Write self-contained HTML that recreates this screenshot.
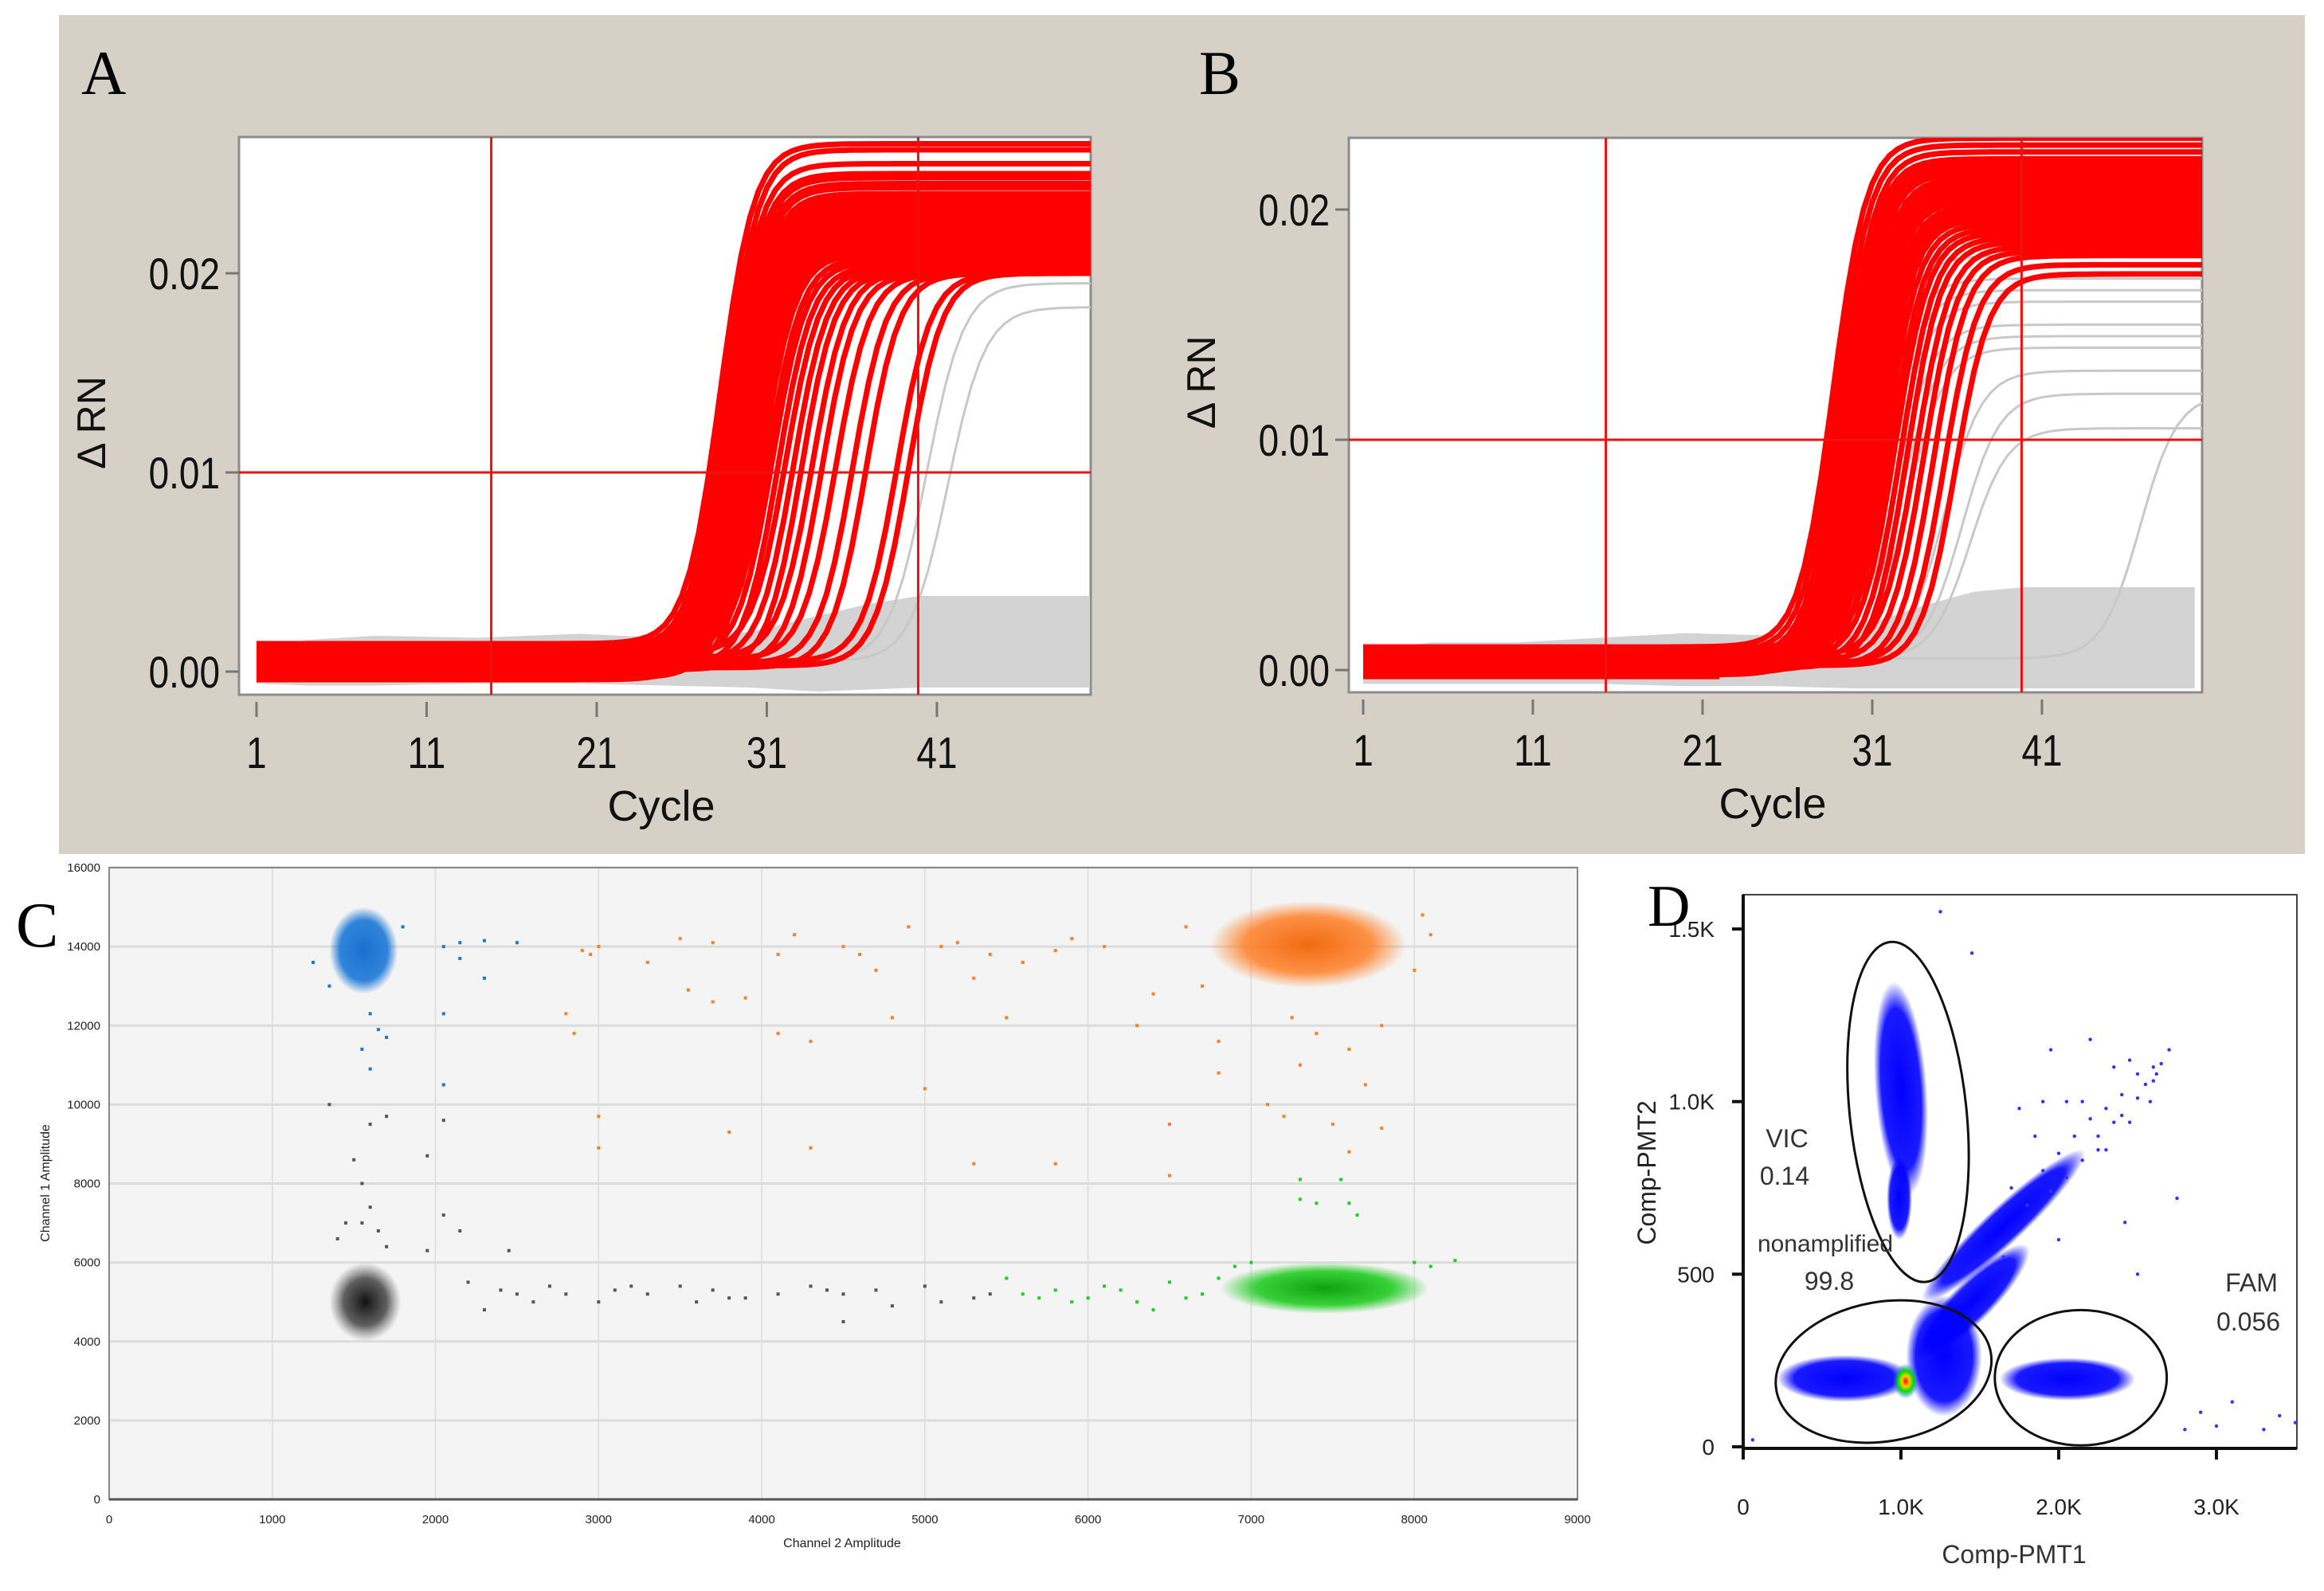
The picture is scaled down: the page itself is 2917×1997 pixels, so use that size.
<!DOCTYPE html>
<html><head><meta charset="utf-8"><style>
html,body{margin:0;padding:0;background:#fff;}
svg{display:block;}
</style></head><body>
<svg id="fig" width="2917" height="1997" viewBox="0 0 2917 1997" xmlns="http://www.w3.org/2000/svg">
<defs>
<clipPath id="clipA"><rect x="300" y="172" width="1069" height="700"/></clipPath>
<clipPath id="clipB"><rect x="1693" y="173" width="1071" height="696"/></clipPath>
<radialGradient id="gBlue"><stop offset="0" stop-color="#1a70d0" stop-opacity="1"/><stop offset="0.7" stop-color="#1a78d6" stop-opacity="0.9"/><stop offset="1" stop-color="#1a78d6" stop-opacity="0"/></radialGradient>
<radialGradient id="gGray"><stop offset="0" stop-color="#111" stop-opacity="1"/><stop offset="0.6" stop-color="#444" stop-opacity="0.85"/><stop offset="1" stop-color="#666" stop-opacity="0"/></radialGradient>
<radialGradient id="gOrange"><stop offset="0" stop-color="#f06a10" stop-opacity="1"/><stop offset="0.65" stop-color="#ff7f27" stop-opacity="0.85"/><stop offset="1" stop-color="#ff7f27" stop-opacity="0"/></radialGradient>
<radialGradient id="gGreen"><stop offset="0" stop-color="#10a010" stop-opacity="1"/><stop offset="0.65" stop-color="#22cc22" stop-opacity="0.9"/><stop offset="1" stop-color="#22cc22" stop-opacity="0"/></radialGradient>
<radialGradient id="gDBlue"><stop offset="0" stop-color="#0000ff" stop-opacity="1"/><stop offset="0.75" stop-color="#0000ff" stop-opacity="0.9"/><stop offset="1" stop-color="#0000ff" stop-opacity="0"/></radialGradient>
<radialGradient id="gHot"><stop offset="0" stop-color="#ff0000"/><stop offset="0.3" stop-color="#ffcc00"/><stop offset="0.6" stop-color="#00dd00"/><stop offset="1" stop-color="#0066ff" stop-opacity="0"/></radialGradient>
</defs>

<rect x="74" y="19" width="2819" height="1053" fill="#d6d0c7"/>
<text x="102" y="118" font-family="Liberation Serif, serif" font-size="78" fill="#000">A</text>
<text x="1505" y="118" font-family="Liberation Serif, serif" font-size="78" fill="#000">B</text>

<rect x="300" y="172" width="1069" height="700" fill="#fff" stroke="#8c8c8c" stroke-width="3"/>
<rect x="1693" y="173" width="1071" height="696" fill="#fff" stroke="#8c8c8c" stroke-width="3"/>
<g id="curvesA" clip-path="url(#clipA)"></g>
<g id="curvesB" clip-path="url(#clipB)"></g>
<g id="axesAB"></g>

<rect x="137" y="1089" width="1843" height="793" fill="#f4f4f4"/>
<g id="panelC"></g>
<text x="20" y="1188" font-family="Liberation Serif, serif" font-size="80" fill="#000">C</text>

<g id="panelD"></g>
<text x="2068" y="1162" font-family="Liberation Serif, serif" font-size="74" fill="#000">D</text>
</svg>

<script>
// ---------- Panel A data ----------
const ctA = [27.6,27.9,28.1,28.3,28.4,28.6,28.7,28.9,29.0,29.1,29.2,29.3,29.4,29.5,29.6,29.7,29.8,29.9,30.0,30.1,30.2,30.4,30.6,30.9,31.2,31.6,32.0,32.5,33.0,33.6,34.2,35.0,36.0,36.8,38.6,39.3];
const plateauA = [0.0265,0.0262,0.0255,0.0250,0.0248,0.0245,0.0243,0.0240,0.0238,0.0236,0.0234,0.0232,0.0230,0.0228,0.0226,0.0224,0.0222,0.0220,0.0218,0.0216,0.0214,0.0212,0.0210,0.0208,0.0206,0.0204,0.0203,0.0202,0.0201,0.0201,0.0200,0.0200,0.0200,0.0200,0.0200,0.0200];
const baseA = [0.0014,0.0012,0.0010,0.0008,0.0006,0.0004,0.0002,0.0000,-0.0002,-0.0004,0.0013,0.0011,0.0009,0.0007,0.0005,0.0003,0.0001,-0.0001,-0.0003,0.0012,0.0008,0.0004,0.0000,0.0010,0.0006,0.0002,0.0009,0.0005,0.0001,0.0007,0.0003,0.0006,0.0004,0.0002,0.0005,0.0003];
const grayCtA = [40.4,41.8];
const grayPlateauA = [0.0195,0.0183];
const grayBandCyclesA = [1,4,8,14,20,25,30,34,37,40,50];
const grayBandTopA = [0.0010,0.0016,0.0018,0.0017,0.0019,0.0017,0.0020,0.0028,0.0034,0.0038,0.0038];
const grayBandBottomA = [-0.0006,-0.0007,-0.0007,-0.0006,-0.0006,-0.0007,-0.0008,-0.0010,-0.0009,-0.0008,-0.0008];

// ---------- Panel B data ----------
const ctB = [28.3,28.6,28.9,29.1,29.3,29.5,29.7,29.9,30.0,30.2,30.4,30.5,30.7,30.9,31.1,31.3,31.5,31.8,32.1,32.4,32.8,33.2,33.7,34.2,34.8,35.5,36.2];
const plateauB = [0.0231,0.0228,0.0225,0.0222,0.0220,0.0218,0.0216,0.0214,0.0212,0.0210,0.0208,0.0206,0.0204,0.0202,0.0200,0.0198,0.0196,0.0194,0.0192,0.0190,0.0188,0.0186,0.0184,0.0182,0.0180,0.0176,0.0172];
const baseB = [0.0010,0.0008,0.0006,0.0004,0.0002,0.0000,-0.0002,0.0009,0.0007,0.0005,0.0003,0.0001,-0.0001,0.0008,0.0006,0.0004,0.0002,0.0000,0.0007,0.0005,0.0003,0.0001,0.0006,0.0004,0.0002,0.0003,0.0002];
const grayCtB = [31.0,31.5,32.0,32.5,33.0,33.5,34.0,36.5,38.0,40.0,42.0,44.0,46.5,48.5];
const grayPlateauB = [0.0180,0.0170,0.0165,0.0160,0.0150,0.0145,0.0140,0.0130,0.0120,0.0105,0.0095,0.0060,0.0050,0.0120];
const grayBandCyclesB = [1,5,10,15,20,25,30,34,37,40,50];
const grayBandTopB = [0.0008,0.0012,0.0012,0.0014,0.0016,0.0015,0.0018,0.0028,0.0034,0.0036,0.0036];
const grayBandBottomB = [-0.0006,-0.0006,-0.0006,-0.0006,-0.0007,-0.0007,-0.0008,-0.0008,-0.0008,-0.0008,-0.0008];

const cycleTicks = [1,11,21,31,41];
const yTicksAB = [0,0.01,0.02];
const yTickLabelsAB = ["0.00","0.01","0.02"];
const thresholdA = {cycle1:14.8, cycle2:39.9, value:0.01};
const thresholdB = {cycle1:15.3, cycle2:39.8, value:0.01};

// ---------- Panel C data ----------
const cXTicks = [0,1000,2000,3000,4000,5000,6000,7000,8000,9000];
const cYTicks = [0,2000,4000,6000,8000,10000,12000,14000,16000];
const cClusterNames = ["blue","gray","orange","green"];
const cClusterX = [1560,1570,7350,7450];
const cClusterY = [13900,5000,14050,5350];
const cClusterSX = [210,220,600,640];
const cClusterSY = [1100,1000,1100,650];
const cOrangeX = [2900,3000,2950,3300,3500,3550,3700,3700,3900,4100,4200,4300,4100,4500,4600,4700,4800,4900,5000,5100,5200,5300,5400,5500,5600,5800,5900,6100,6300,6500,6500,6800,6800,7100,7200,7300,7500,7600,7700,7800,3000,3000,3800,4300,5300,5800,2800,2850,6400,8100,8000,7800,7250,7400,7600,6600,6700,8050];
const cOrangeY = [13900,14000,13800,13600,14200,12900,12600,14100,12700,13800,14300,11600,11800,14000,13800,13400,12200,14500,10400,14000,14100,13200,13800,12200,13600,13900,14200,14000,12000,9500,8200,11600,10800,10000,9700,11000,9500,8800,10500,9400,9700,8900,9300,8900,8500,8500,12300,11800,12800,14300,13400,12000,12200,11800,11400,14500,13000,14800];
const cBlueX = [2050,2150,2300,2500,2150,2300,2050,2050,1600,1650,1550,1600,1700,1250,1350,1800];
const cBlueY = [14000,14100,14150,14100,13700,13200,12300,10500,12300,11900,11400,10900,11700,13600,13000,14500];
const cGrayX = [1350,1600,1700,1500,1550,1600,1450,1550,1650,1400,1700,1950,2050,2150,1950,2450,2050,2200,2400,2500,2700,2800,3000,3100,3300,3500,3600,3700,3900,4100,4300,4500,4500,4700,4800,5000,5100,5300,5400,2300,2600,3200,3800,4400];
const cGrayY = [10000,9500,9700,8600,8000,7400,7000,7000,6800,6600,6400,8700,7200,6800,6300,6300,9600,5500,5300,5200,5400,5200,5000,5300,5200,5400,5000,5300,5100,5200,5400,5200,4500,5300,4900,5400,5000,5100,5200,4800,5000,5400,5100,5300];
const cGreenX = [5500,5600,5800,6000,6200,6300,6500,6700,6800,6900,7000,7300,7550,7300,7400,7600,7650,8000,8100,8250,6400,5900,6600,6100,5700];
const cGreenY = [5600,5200,5300,5100,5300,5000,5500,5200,5600,5900,6000,8100,8100,7600,7500,7500,7200,6000,5900,6050,4800,5000,5100,5400,5100];

// ---------- Panel D data ----------
const dXTicks = [0,1000,2000,3000];
const dXTickLabels = ["0","1.0K","2.0K","3.0K"];
const dYTicks = [0,500,1000,1500];
const dYTickLabels = ["0","500","1.0K","1.5K"];
const dClusterX = [1000,990,645,1273,1450,2055,1650];
const dClusterY = [1037,720,198,263,420,196,640];
const dClusterSX = [165,80,430,240,500,430,700];
const dClusterSY = [311,120,68,175,60,62,55];
const dClusterRot = [-4,0,0,0,-45,0,-43];
const dScatterX = [1650,1800,1900,2000,2100,2200,2300,2400,2500,2600,2700,1700,1850,2050,2250,2450,2900,3000,3100,3300,3400,3500,2800,1450,1250,2200,1900,2550,2350,2150,1950,2650,2450,2000,1750,2580,2620,2750,60,2420,2500,2150,2250,2350,2050,1950,2300,2400,2500,2600];
const dScatterY = [550,700,800,850,900,950,980,1020,1080,1100,1150,750,900,1000,860,940,100,60,130,50,90,70,50,1430,1550,1180,1000,1050,1100,1000,1150,1110,1120,600,980,1000,1080,720,20,650,500,830,900,940,780,740,860,960,1010,1060];
const dGateCX = [1045,890,2140];
const dGateCY = [970,218,200];
const dGateRX = [370,690,545];
const dGateRY = [495,202,196];
const dGateRot = [-6,-10,0];
</script>
<script>
const NS = "http://www.w3.org/2000/svg";
function mk(tag, attrs, parent){
  const e = document.createElementNS(NS, tag);
  for (const k in attrs) e.setAttribute(k, attrs[k]);
  parent.appendChild(e);
  return e;
}
const axesAB = document.getElementById('axesAB');

const xA = c => 300.6 + c*21.35;
const yA = v => 843 - v*25000;
const xB = c => 1711 + (c-1)*21.3;
const yB = v => 841 - v*28900;
const xC = v => 137 + v*(1843/9000);
const yC = v => 1882 - v*(793/16000);
const xD = v => 2188 + v*0.198;
const yD = v => 1816 - v*0.4333;

function curvePts(ct, P, base, xs, ys, k){
  const m = ct + k*Math.log((P-base)/(0.01-base) - 1);
  const pts = [];
  for (let c = 1; c <= 50.5; c += 0.5){
    const v = base + (P-base)/(1+Math.exp(-(c-m)/k));
    pts.push(xs(c).toFixed(1)+","+ys(v).toFixed(1));
  }
  return pts.join(" ");
}

function drawQPCR(g, ct, pl, base, gct, gpl, bandC, bandT, bandB, xs, ys, thr, name){
  const top = bandC.map((c,i)=>xs(c)+","+ys(bandT[i]));
  const bot = bandC.map((c,i)=>xs(c)+","+ys(bandB[i])).reverse();
  const band = mk('polygon', {points: top.concat(bot).join(" "), fill:"#d3d3d3"}, g);
  
  
  gct.forEach((c,i)=>{
    const l = mk('polyline', {points: curvePts(c, gpl[i], 0.0005, xs, ys, 1.1), fill:"none", stroke:"#c8c8c8", "stroke-width":3}, g);
    
    
  });
  ct.forEach((c,i)=>{
    const l = mk('polyline', {points: curvePts(c, pl[i], base[i], xs, ys, 1.0), fill:"none", stroke:"#ff0000", "stroke-width":7, "stroke-linejoin":"round"}, g);
    
    
  });
  const bl = mk('rect', {x: xs(1), y: ys(0.0011), width: xs(22)-xs(1), height: ys(-0.0004)-ys(0.0011), fill:"#ff0000"}, g);
  
  
  [thr.cycle1, thr.cycle2].forEach(c=>{
    const l = mk('line', {x1: xs(c), x2: xs(c), y1: 0, y2: 2000, stroke:"#ee1111", "stroke-width":3}, g);
    
    
  });
  const h = mk('line', {x1: 0, x2: 3000, y1: ys(thr.value), y2: ys(thr.value), stroke:"#ee1111", "stroke-width":3}, g);
  
  
}
drawQPCR(document.getElementById('curvesA'), ctA, plateauA, baseA, grayCtA, grayPlateauA, grayBandCyclesA, grayBandTopA, grayBandBottomA, xA, yA, thresholdA, 'a');
drawQPCR(document.getElementById('curvesB'), ctB, plateauB, baseB, grayCtB, grayPlateauB, grayBandCyclesB, grayBandTopB, grayBandBottomB, xB, yB, thresholdB, 'b');

function axesQ(xs, ys, left, bottom, cx, name, yLabelX){
  cycleTicks.forEach(c=>{
    const t = mk('line', {x1: xs(c), x2: xs(c), y1: bottom+9, y2: bottom+28, stroke:"#777", "stroke-width":3}, axesAB);
    
    
    const tx = mk('text', {x: xs(c), y: bottom+92, "text-anchor":"middle", "font-family":"Liberation Sans, sans-serif", "font-size":56, fill:"#111", transform:`translate(${xs(c)},0) scale(0.82,1) translate(${-xs(c)},0)`}, axesAB);
    tx.textContent = c;
    
    
  });
  yTicksAB.forEach((v,i)=>{
    const t = mk('line', {x1: left-17, x2: left, y1: ys(v), y2: ys(v), stroke:"#777", "stroke-width":3}, axesAB);
    
    
    const tx = mk('text', {x: left-24, y: ys(v)+20, "text-anchor":"end", "font-family":"Liberation Sans, sans-serif", "font-size":56, fill:"#111", transform:`translate(${left-24},0) scale(0.82,1) translate(${-(left-24)},0)`}, axesAB);
    tx.textContent = yTickLabelsAB[i];
    
    
  });
  const xt = mk('text', {x: cx, y: bottom+158, "text-anchor":"middle", "font-family":"Liberation Sans, sans-serif", "font-size":54, fill:"#111"}, axesAB);
  xt.textContent = "Cycle";
  
  
  const yt = mk('text', {x: 0, y: 0, "text-anchor":"middle", "font-family":"Liberation Sans, sans-serif", "font-size":50, fill:"#111", transform:`translate(${yLabelX},${ys(0.0125)}) rotate(-90)`}, axesAB);
  yt.textContent = "Δ RN";
  
  
}
axesQ(xA, yA, 300, 872, 830, 'a', 132);
axesQ(xB, yB, 1693, 869, 2225, 'b', 1525);

// ---------- Panel C ----------
const gC = document.getElementById('panelC');
cXTicks.forEach(v=>{
  const l = mk('line', {x1: xC(v), x2: xC(v), y1: 1089, y2: 1882, stroke:"#dcdcdc", "stroke-width":1.5}, gC);
  
  
  const t = mk('text', {x: xC(v), y: 1912, "text-anchor":"middle", "font-family":"Liberation Sans, sans-serif", "font-size":15, fill:"#222"}, gC);
  t.textContent = v;
  
  
});
cYTicks.forEach(v=>{
  const l = mk('line', {x1: 137, x2: 1980, y1: yC(v), y2: yC(v), stroke:"#dcdcdc", "stroke-width":3}, gC);
  
  
  const t = mk('text', {x: 126, y: yC(v)+5, "text-anchor":"end", "font-family":"Liberation Sans, sans-serif", "font-size":15, fill:"#222"}, gC);
  t.textContent = v;
  
  
});
const fr = mk('path', {d:`M137,1089 H1980 V1882 H137 Z`, fill:"none", stroke:"#888", "stroke-width":2}, gC);


const axC = mk('line', {x1:137, x2:1980, y1:1882, y2:1882, stroke:"#555", "stroke-width":3}, gC);


const cFill = {blue:"url(#gBlue)", gray:"url(#gGray)", orange:"url(#gOrange)", green:"url(#gGreen)"};
const cDot = {blue:"#1a78d6", gray:"#555", orange:"#ff7f27", green:"#22cc22"};
cClusterNames.forEach((n,i)=>{
  const e = mk('ellipse', {cx: xC(cClusterX[i]), cy: yC(cClusterY[i]), rx: cClusterSX[i]*1843/9000, ry: cClusterSY[i]*793/16000, fill: cFill[n]}, gC);
  
  
});
function dotsC(xsArr, ysArr, n){
  xsArr.forEach((x,i)=>{
    const d = mk('rect', {x: xC(x)-2, y: yC(ysArr[i])-2, width:4, height:4, fill: cDot[n]}, gC);
    
    
  });
}
dotsC(cOrangeX, cOrangeY, 'orange');
dotsC(cBlueX, cBlueY, 'blue');
dotsC(cGrayX, cGrayY, 'gray');
dotsC(cGreenX, cGreenY, 'green');
const cxt = mk('text', {x: 1057, y: 1942, "text-anchor":"middle", "font-family":"Liberation Sans, sans-serif", "font-size":16, fill:"#222"}, gC);
cxt.textContent = "Channel 2 Amplitude";


const cyt = mk('text', {x:0, y:0, "text-anchor":"middle", "font-family":"Liberation Sans, sans-serif", "font-size":16, fill:"#222", transform:"translate(62,1485) rotate(-90)"}, gC);
cyt.textContent = "Channel 1 Amplitude";



// ---------- Panel D ----------
const gD = document.getElementById('panelD');
const fD = mk('rect', {x:2188, y:1123, width:695, height:695, fill:"#fff", stroke:"#444", "stroke-width":2}, gD);


const axDx = mk('line', {x1:2188, x2:2883, y1:1818, y2:1818, stroke:"#111", "stroke-width":4}, gD);


const axDy = mk('line', {x1:2188, x2:2188, y1:1123, y2:1818, stroke:"#111", "stroke-width":4}, gD);


dXTicks.forEach((v,i)=>{
  const t = mk('line', {x1:xD(v), x2:xD(v), y1:1818, y2:1832, stroke:"#111", "stroke-width":4}, gD);
  
  
  const tx = mk('text', {x: xD(v), y: 1901, "text-anchor":"middle", "font-family":"Liberation Sans, sans-serif", "font-size":28, fill:"#222"}, gD);
  tx.textContent = dXTickLabels[i];
  
  
});
dYTicks.forEach((v,i)=>{
  const t = mk('line', {x1:2174, x2:2188, y1:yD(v), y2:yD(v), stroke:"#111", "stroke-width":4}, gD);
  
  
  const tx = mk('text', {x: 2152, y: yD(v)+10, "text-anchor":"end", "font-family":"Liberation Sans, sans-serif", "font-size":28, fill:"#222"}, gD);
  tx.textContent = dYTickLabels[i];
  
  
});
dClusterX.forEach((x,i)=>{
  const rot = dClusterRot[i];
  const e = mk('ellipse', {cx: xD(x), cy: yD(dClusterY[i]), rx: dClusterSX[i]*0.198, ry: dClusterSY[i]*0.4333, fill:"url(#gDBlue)", transform:`rotate(${rot} ${xD(x)} ${yD(dClusterY[i])})`}, gD);
  
  
});
const hot = mk('ellipse', {cx: xD(1030), cy: yD(190), rx: 16, ry: 22, fill:"url(#gHot)"}, gD);


dScatterX.forEach((x,i)=>{
  const d = mk('circle', {cx: xD(x), cy: yD(dScatterY[i]), r: 2.2, fill:"#3333ff"}, gD);
  
  
});
const gateNames = ['vic-gate','nonamplified-gate','fam-gate'];
dGateCX.forEach((x,i)=>{
  const e = mk('ellipse', {cx: xD(x), cy: yD(dGateCY[i]), rx: dGateRX[i]*0.198, ry: dGateRY[i]*0.4333, fill:"none", stroke:"#111", "stroke-width":3, transform:`rotate(${dGateRot[i]} ${xD(x)} ${yD(dGateCY[i])})`}, gD);
  
  
});
function dText(s, x, y, size, name, anchor){
  const t = mk('text', {x:x, y:y, "text-anchor":anchor||"middle", "font-family":"Liberation Sans, sans-serif", "font-size":size, fill:"#333"}, gD);
  t.textContent = s;
  
  
}
dText("VIC", 2243, 1440, 32, 'vic-label');
dText("0.14", 2240, 1487, 32, 'vic-percent');
dText("nonamplified", 2291, 1571, 30, 'nonamplified-label');
dText("99.8", 2296, 1619, 32, 'nonamplified-percent');
dText("FAM", 2826, 1621, 32, 'fam-label');
dText("0.056", 2822, 1670, 32, 'fam-percent');
dText("Comp-PMT1", 2528, 1962, 32, 'd-x-axis-title');
const dyt = mk('text', {x:0, y:0, "text-anchor":"middle", "font-family":"Liberation Sans, sans-serif", "font-size":32, fill:"#222", transform:"translate(2078,1472) rotate(-90)"}, gD);
dyt.textContent = "Comp-PMT2";


</script>
</body></html>
